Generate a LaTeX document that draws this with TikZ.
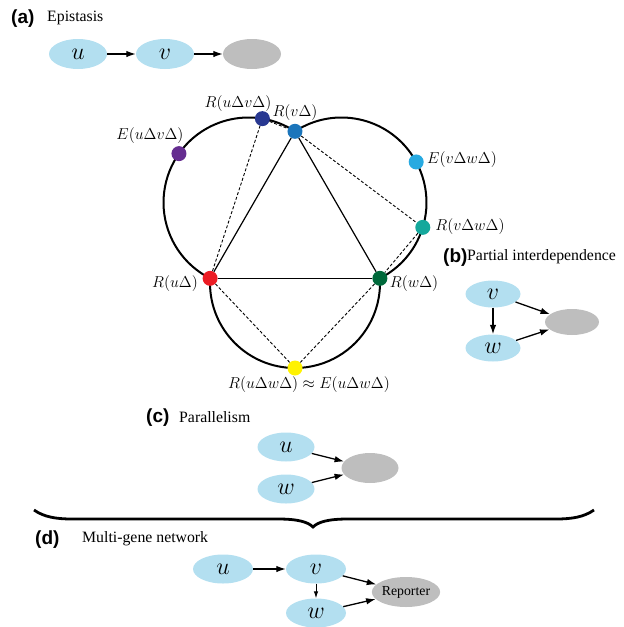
\RequirePackage{fix-cm}
\documentclass[tikz,border=0pt]{standalone}
\usepackage{fontspec}
\setmainfont{Liberation Serif}
\newfontfamily\hvb{Liberation Sans}
\usetikzlibrary{shapes.geometric,arrows.meta,calc}
\definecolor{geneblue}{RGB}{179,223,240}
\definecolor{tgtgray}{RGB}{190,190,190}
\definecolor{cred}{HTML}{EC1C24}
\definecolor{cnavy}{HTML}{283891}
\definecolor{cblue}{HTML}{1B75BB}
\definecolor{cpurple}{HTML}{652D90}
\definecolor{ccyan}{HTML}{27AAE1}
\definecolor{cteal}{HTML}{14A89C}
\definecolor{cgreen}{HTML}{00693B}
\definecolor{cyellow}{HTML}{FFF200}
\begin{document}
\begin{tikzpicture}[x=1pt,y=-1pt,
  gene/.style={ellipse, fill=geneblue, minimum width=58pt, minimum height=30pt, inner sep=0pt, font=\fontsize{24}{24}\selectfont},
  target/.style={ellipse, fill=tgtgray, minimum width=58pt, minimum height=30pt, inner sep=0pt},
  arr/.style={-{Latex[length=9.5pt,width=6.5pt]}, line width=1.3pt},
  thinarr/.style={-{Latex[length=7pt,width=4.5pt]}, line width=0.9pt},
  title/.style={font=\fontsize{15.8}{16}\selectfont, anchor=west, inner sep=0pt},
  tag/.style={font=\hvb\bfseries\fontsize{19}{20}\selectfont, anchor=west, inner sep=0pt},
  lab/.style={font=\fontsize{15.8}{16}\selectfont, inner sep=0pt},
  dot/.style={circle, minimum size=15pt, inner sep=0pt},
  ring/.style={line width=2pt},
  tri/.style={line width=1.2pt},
  dsh/.style={dash pattern=on 3pt off 2pt, line width=0.9pt}
]
\useasboundingbox (0,0) rectangle (624,627);

% ---------- (a) Epistasis ----------
\node[tag] (ta) at (11,19) {(a)};
\node[title] (tta) at (47,18) {Epistasis};
\node[gene] (au) at (78,54) {$u$};
\node[gene] (av) at (165,54) {$v$};
\node[target] (ag) at (252,54) {};
\draw[arr] (au) -- (av);
\draw[arr] (av) -- (ag);

% ---------- circle diagram ----------
\coordinate (CL) at (248.5,202.5);
\coordinate (CR) at (341.5,202.5);
\coordinate (CB) at (295,283);
\draw[ring] (CL) ++(-56.85:85) arc[start angle=-56.85, end angle=-243.14, radius=85];
\draw[ring] (CR) ++(-123.15:85) arc[start angle=-123.15, end angle=63.14, radius=85];
\draw[ring] (CB) ++(183.1:85) arc[start angle=183.1, end angle=-3.1, radius=85];

\node[dot, fill=cred]    (dred)    at ($(CL)+(116.86:85)$) {};
\node[dot, fill=cgreen]  (dgreen)  at ($(CR)+(63.14:85)$) {};
\node[dot, fill=cblue]   (dblue)   at ($(CL)+(-56.85:85)$) {};
\node[dot, fill=cnavy]   (dnavy)   at ($(CL)+(-80.6:85)$) {};
\node[dot, fill=cpurple] (dpurple) at ($(CL)+(-144.9:85)$) {};
\node[dot, fill=ccyan]   (dcyan)   at ($(CR)+(-28.5:85)$) {};
\node[dot, fill=cteal]   (dteal)   at ($(CR)+(17:85)$) {};
\node[dot, fill=cyellow] (dyellow) at ($(CB)+(90:85)$) {};

\draw[tri] (dred) -- (dblue);
\draw[tri] (dblue) -- (dgreen);
\draw[tri] (dred) -- (dgreen);
\draw[dsh] (dred) -- (dnavy);
\draw[dsh] (dnavy) -- (dblue);
\draw[dsh] (dblue) -- (dteal);
\draw[dsh] (dteal) -- (dgreen);
\draw[dsh] (dred) -- (dyellow);
\draw[dsh] (dyellow) -- (dgreen);

\node[lab] (lnavy)   at (238,104) {$R(u\Delta v\Delta)$};
\node[lab] (lblue)   at (295,113) {$R(v\Delta)$};
\node[lab] (lpurple) at (150,136) {$E(u\Delta v\Delta)$};
\node[lab] (lcyan)   at (462,160) {$E(v\Delta w\Delta)$};
\node[lab] (lteal)   at (470,227) {$R(v\Delta w\Delta)$};
\node[lab] (lred)    at (175,284) {$R(u\Delta)$};
\node[lab] (lgreen)  at (414,284) {$R(w\Delta)$};
\node[lab] (lyellow) at (309,385) {$R(u\Delta w\Delta)\approx E(u\Delta w\Delta)$};

% ---------- (b) Partial interdependence ----------
\node[tag] (tb) at (443,258) {(b)};
\node[title] (ttb) at (467,257) {Partial interdependence};
\node[gene, minimum width=55pt, minimum height=27pt] (bv) at (493,294) {$v$};
\node[gene, minimum width=55pt, minimum height=27pt] (bw) at (493,348) {$w$};
\node[target, minimum width=54pt, minimum height=26pt] (bg) at (572,322) {};
\draw[arr] (bv) -- (bw);
\draw[arr] (bv) -- (bg);
\draw[arr] (bw) -- (bg);

% ---------- (c) Parallelism ----------
\node[tag] (tc) at (146,418) {(c)};
\node[title] (ttc) at (179,417) {Parallelism};
\node[gene, minimum width=57pt, minimum height=29pt] (cu) at (286,447) {$u$};
\node[gene, minimum width=57pt, minimum height=29pt] (cw) at (286,489) {$w$};
\node[target, minimum width=57pt, minimum height=30pt] (cg) at (370,468) {};
\draw[arr] (cu) -- (cg);
\draw[arr] (cw) -- (cg);

% ---------- brace ----------
\draw[line width=2.8pt] (34,510) .. controls (44,517) and (56,519) .. (72,519)
  -- (278,519) .. controls (298,519) and (308,522) .. (313,527)
  .. controls (318,522) and (328,519) .. (348,519)
  -- (556,519) .. controls (572,519) and (584,517) .. (594,510);

% ---------- (d) Multi-gene network ----------
\node[tag] (td) at (35,540) {(d)};
\node[title] (ttd) at (82,539) {Multi-gene network};
\node[gene, minimum width=60pt, minimum height=29pt] (du) at (223,569) {$u$};
\node[gene, minimum width=60pt, minimum height=29pt] (dv) at (316,569) {$v$};
\node[gene, minimum width=60pt, minimum height=29pt] (dw) at (316,613) {$w$};
\node[target, minimum width=62pt, minimum height=30pt, font=\fontsize{13.8}{14}\selectfont] (dr) at (406,592) {$\mathrm{Reporter}$};
\draw[arr] (du) -- (dv);
\draw[thinarr] (dv) -- (dw);
\draw[arr] (dv) -- (dr);
\draw[arr] (dw) -- (dr);
\end{tikzpicture}
\end{document}
